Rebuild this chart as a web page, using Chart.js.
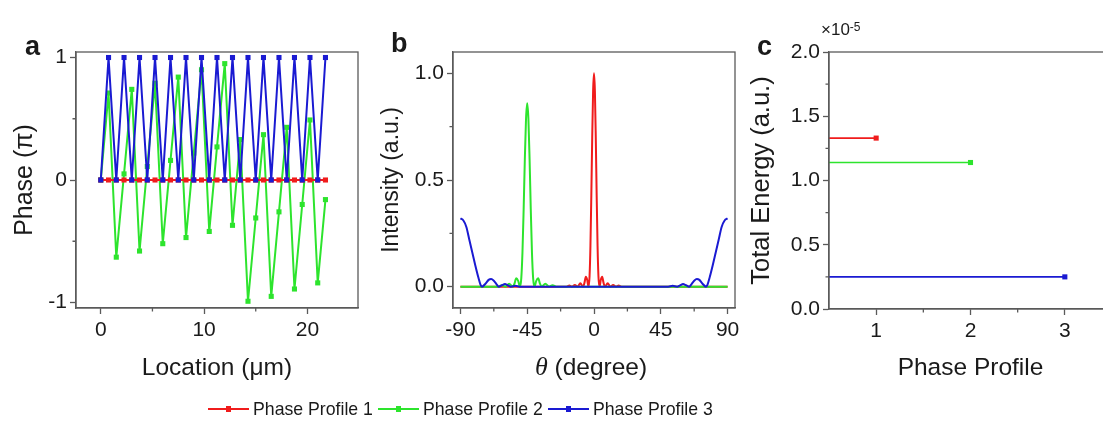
<!DOCTYPE html>
<html>
<head>
<meta charset="utf-8">
<script src="https://cdn.jsdelivr.net/npm/chart.js@4.4.0/dist/chart.umd.min.js"></script>
<style>
  html, body { margin: 0; padding: 0; background: #fff; overflow: hidden; }
  body { position: relative; width: 1103px; height: 421px; font-family: "Liberation Sans", Arial, sans-serif; color: #1a1a1a; }
  canvas { position: absolute; top: 0; }
  .tag { position: absolute; font-weight: bold; font-size: 27px; line-height: 27px; }
  #mult { position: absolute; left: 821px; top: 20px; font-size: 17px; line-height: 20px; }
  #mult sup { font-size: 12px; position: relative; top: -3px; vertical-align: top; }
  #legend { position: absolute; left: 208px; top: 399px; display: flex; font-size: 17.7px; line-height: 20px; white-space: nowrap; }
  #legend .item { display: flex; align-items: center; margin-right: 5px; }
  #legend .key { position: relative; width: 41px; height: 2px; margin-right: 4px; }
  #legend .key::after { content: ""; position: absolute; left: 18px; top: -2px; width: 5px; height: 6px; background: inherit; }
</style>
</head>
<body>
<canvas id="chartA" width="370" height="400" style="left:0px"></canvas>
<canvas id="chartB" width="375" height="400" style="left:370px"></canvas>
<canvas id="chartC" width="380" height="400" style="left:740px"></canvas>
<div class="tag" style="left:25px;top:33px">a</div>
<div class="tag" style="left:391px;top:30px">b</div>
<div class="tag" style="left:757px;top:33px">c</div>
<div id="mult">&times;10<sup>-5</sup></div>
<div id="legend"></div>
<script>
// series
const seriesNames = ['Phase Profile 1', 'Phase Profile 2', 'Phase Profile 3'];
const seriesColors = ['#f01c1c', '#2de42d', '#1a1ad2'];

// panel a - phase along the metasurface
const locationUm = [0, 0.75, 1.5, 2.25, 3, 3.75, 4.5, 5.25, 6, 6.75, 7.5, 8.25, 9, 9.75, 10.5,
  11.25, 12, 12.75, 13.5, 14.25, 15, 15.75, 16.5, 17.25, 18, 18.75, 19.5, 20.25, 21, 21.75];
const phase1 = [0, 0, 0, 0, 0, 0, 0, 0, 0, 0, 0, 0, 0, 0, 0, 0, 0, 0, 0, 0, 0, 0, 0, 0, 0, 0, 0, 0, 0, 0];
const phase2 = [0, 0.71, -0.63, 0.05, 0.74, -0.58, 0.11, 0.79, -0.52, 0.16, 0.84, -0.47, 0.22, 0.90, -0.42,
  0.27, 0.95, -0.37, 0.33, -0.99, -0.31, 0.37, -0.95, -0.26, 0.43, -0.89, -0.20, 0.49, -0.84, -0.16];
const phase3 = [0, 1, 0, 1, 0, 1, 0, 1, 0, 1, 0, 1, 0, 1, 0, 1, 0, 1, 0, 1, 0, 1, 0, 1, 0, 1, 0, 1, 0, 1];
const phaseTicks = [-1, 0, 1];
const phaseMinor = [-0.5, 0.5];
const locationTicks = [0, 10, 20];
const locationMinor = [5, 15];

// panel b - far field intensity
const thetaRed = [-90, -18.5, -16.6, -14.8, -12.9, -11.1, -9.2, -7.4, -6.4, -5.5, -4.6, -3.7, -3, -2.4, -1.8, -1.2, -0.6, 0,
  0.6, 1.2, 1.8, 2.4, 3, 3.7, 4.6, 5.5, 6.4, 7.4, 9.2, 11.1, 12.9, 14.8, 16.6, 18.5, 90];
const intensityRed = [0, 0, 0.005, 0, 0.008, 0, 0.016, 0, 0.019, 0.046, 0.032, 0, 0.048, 0.192, 0.428, 0.699, 0.918, 1.0,
  0.918, 0.699, 0.428, 0.192, 0.048, 0, 0.032, 0.046, 0.019, 0, 0.016, 0, 0.008, 0, 0.005, 0, 0];
const thetaGreen = [-90, -64.6, -62.1, -59.7, -57.2, -54.8, -53.6, -52.4, -51.1, -49.9, -49, -48.2, -47.4, -46.6, -45.8, -45,
  -44.2, -43.4, -42.6, -41.8, -41, -40.1, -38.9, -37.6, -36.4, -35.2, -32.8, -30.3, -27.9, -25.4, 90];
const intensityGreen = [0, 0, 0.007, 0, 0.014, 0, 0.014, 0.039, 0.027, 0, 0.039, 0.16, 0.363, 0.597, 0.787, 0.86,
  0.787, 0.597, 0.363, 0.16, 0.039, 0, 0.027, 0.039, 0.014, 0, 0.014, 0, 0.007, 0, 0];
const thetaBlue = [-90, -88, -86, -84, -82, -80, -78, -76.5, -75.5, -73, -71, -69.3, -67.5, -65.5, -64.2, -62, -60, -58, -56, -53, -50,
  50, 53, 56, 58, 60, 62, 64.2, 65.5, 67.5, 69.3, 71, 73, 75.5, 76.5, 78, 80, 82, 84, 86, 88, 90];
const intensityBlue = [0.32, 0.31, 0.28, 0.22, 0.16, 0.1, 0.045, 0.01, 0, 0.015, 0.032, 0.036, 0.028, 0.01, 0, 0.007, 0.012, 0.006, 0, 0.004, 0,
  0, 0.004, 0, 0.006, 0.012, 0.007, 0, 0.01, 0.028, 0.036, 0.032, 0.015, 0, 0.01, 0.045, 0.1, 0.16, 0.22, 0.28, 0.31, 0.32];
const intensityTicks = [0, 0.5, 1.0];
const intensityMinor = [0.25, 0.75];
const thetaTicks = [-90, -45, 0, 45, 90];
const thetaMinor = [-67.5, -22.5, 22.5, 67.5];

// panel c - total energy
const profileIds = [1, 2, 3];
const totalEnergy = [1.33e-5, 1.14e-5, 0.25e-5];
const energyTicks = [0, 0.5e-5, 1.0e-5, 1.5e-5, 2.0e-5];
const energyMinor = [0.25e-5, 0.75e-5, 1.25e-5, 1.75e-5];
const profileMinor = [1.5, 2.5];

const AXIS = '#5a5a5a';
const TEXT = '#1a1a1a';
const FAMILY = '"Liberation Sans", Arial, sans-serif';
const TICK_FONT = { family: FAMILY, size: 21 };

// minor ticks + full box round the plot
const frameBox = {
  id: 'frameBox',
  afterDatasetsDraw(chart, args, opts) {
    const { ctx, chartArea: a, scales } = chart;
    ctx.save();
    ctx.strokeStyle = AXIS;
    ctx.lineWidth = 1.3;
    ctx.beginPath();
    (opts.x || []).forEach(v => {
      const px = scales.x.getPixelForValue(v);
      ctx.moveTo(px, a.bottom); ctx.lineTo(px, a.bottom + 3.5);
    });
    (opts.y || []).forEach(v => {
      const py = scales.y.getPixelForValue(v);
      ctx.moveTo(a.left, py); ctx.lineTo(a.left - 3.5, py);
    });
    ctx.stroke();
    ctx.strokeRect(a.left, a.top, a.right - a.left, a.bottom - a.top);
    ctx.restore();
  }
};

function pts(xs, ys) { return xs.map((x, i) => ({ x: x, y: ys[i] })); }

function axis(min, max, ticks, opts) {
  return {
    type: 'linear', min: min, max: max,
    afterBuildTicks: s => { s.ticks = ticks.map(v => ({ value: v })); },
    afterFit: opts.fit,
    grid: { drawOnChartArea: false, tickLength: 6, tickColor: AXIS, tickWidth: 1.3 },
    border: { display: true, color: AXIS, width: 1.3 },
    ticks: { font: TICK_FONT, color: TEXT, padding: opts.pad, callback: opts.fmt || (v => String(v)) },
    title: opts.title ? {
      display: true, text: opts.title, color: TEXT, padding: opts.titlePad,
      font: { family: FAMILY, size: opts.titleSize || 23 }
    } : { display: false }
  };
}

const base = {
  responsive: false,
  animation: false,
  events: [],
  plugins: { legend: { display: false }, tooltip: { enabled: false } }
};

// ---- panel a
new Chart(document.getElementById('chartA'), {
  type: 'line',
  data: {
    datasets: [phase1, phase2, phase3].map((d, i) => ({
      label: seriesNames[i],
      data: pts(locationUm, d),
      borderColor: seriesColors[i], backgroundColor: seriesColors[i],
      borderWidth: 2, tension: 0,
      pointStyle: 'rect', pointRadius: 3.6, pointBorderWidth: 0,
      order: [1, 2, 0][i]
    }))
  },
  options: {
    ...base,
    layout: { padding: { top: 52, right: 12, left: 0, bottom: 0 } },
    scales: {
      x: axis(-2.4, 24.9, locationTicks, { fit: s => { s.height = 92; }, pad: 4, title: 'Location (\u03bcm)', titleSize: 24.5, titlePad: { top: 0, bottom: 17 } }),
      y: axis(-1.045, 1.045, phaseTicks, { fit: s => { s.width = 76; }, pad: 3, title: 'Phase (\u03c0)', titleSize: 25, titlePad: { top: 10, bottom: 0 } })
    },
    plugins: { ...base.plugins, frameBox: { x: locationMinor, y: phaseMinor } }
  },
  plugins: [frameBox]
});

// ---- panel b
const thetaTitle = {
  id: 'thetaTitle',
  afterDraw(chart) {
    const { ctx, chartArea: a } = chart;
    const sym = '\u03b8', rest = ' (degree)';
    ctx.save();
    ctx.fillStyle = TEXT;
    ctx.textBaseline = 'middle';
    ctx.font = 'italic 26px "Liberation Serif"';
    const w1 = ctx.measureText(sym).width;
    ctx.font = '24.5px "Liberation Sans"';
    const w2 = ctx.measureText(rest).width;
    let x = (a.left + a.right) / 2 - (w1 + w2) / 2 - 3;
    ctx.font = 'italic 26px "Liberation Serif"';
    ctx.fillText(sym, x, 368);
    ctx.font = '24.5px "Liberation Sans"';
    ctx.fillText(rest, x + w1, 368);
    ctx.restore();
  }
};

new Chart(document.getElementById('chartB'), {
  type: 'line',
  data: {
    datasets: [[thetaRed, intensityRed], [thetaGreen, intensityGreen], [thetaBlue, intensityBlue]].map((d, i) => ({
      label: seriesNames[i],
      data: pts(d[0], d[1]),
      borderColor: seriesColors[i], backgroundColor: seriesColors[i],
      borderWidth: 2, pointRadius: 0,
      cubicInterpolationMode: 'monotone',
      order: [2, 1, 0][i]
    }))
  },
  options: {
    ...base,
    layout: { padding: { top: 52, right: 10, left: 0, bottom: 0 } },
    scales: {
      x: axis(-95, 95, thetaTicks, { fit: s => { s.height = 92; }, pad: 4 }),
      y: axis(-0.1, 1.1, intensityTicks, { fit: s => { s.width = 83; }, pad: 3, fmt: v => v.toFixed(1), title: 'Intensity (a.u.)', titleSize: 23, titlePad: { top: 8, bottom: 0 } })
    },
    plugins: { ...base.plugins, frameBox: { x: thetaMinor, y: intensityMinor } }
  },
  plugins: [frameBox, thetaTitle]
});

// ---- panel c
const profileMin = 0.5, profileMax = 3.5;
new Chart(document.getElementById('chartC'), {
  type: 'line',
  data: {
    datasets: profileIds.map((p, i) => ({
      label: seriesNames[i],
      data: [{ x: profileMin, y: totalEnergy[i] }, { x: p, y: totalEnergy[i] }],
      borderColor: seriesColors[i], backgroundColor: seriesColors[i],
      borderWidth: 1.6, tension: 0,
      pointStyle: 'rect', pointRadius: [0, 3.6], pointBorderWidth: 0
    }))
  },
  options: {
    ...base,
    layout: { padding: { top: 52, right: 8, left: 0, bottom: 0 } },
    scales: {
      x: axis(profileMin, profileMax, profileIds, { fit: s => { s.height = 91; }, pad: 4, title: 'Phase Profile', titleSize: 24.5, titlePad: { top: 0, bottom: 17 } }),
      y: axis(0, 2e-5, energyTicks, { fit: s => { s.width = 89; }, pad: 3, fmt: v => (v / 1e-5).toFixed(1), title: 'Total Energy (a.u.)', titleSize: 25.5, titlePad: { top: 7, bottom: 0 } })
    },
    plugins: { ...base.plugins, frameBox: { x: profileMinor, y: energyMinor } }
  },
  plugins: [frameBox]
});

// shared legend
const legend = document.getElementById('legend');
seriesNames.forEach((name, i) => {
  const item = document.createElement('span');
  item.className = 'item';
  const key = document.createElement('span');
  key.className = 'key';
  key.style.background = seriesColors[i];
  item.appendChild(key);
  item.appendChild(document.createTextNode(name));
  legend.appendChild(item);
});
</script>
</body>
</html>
